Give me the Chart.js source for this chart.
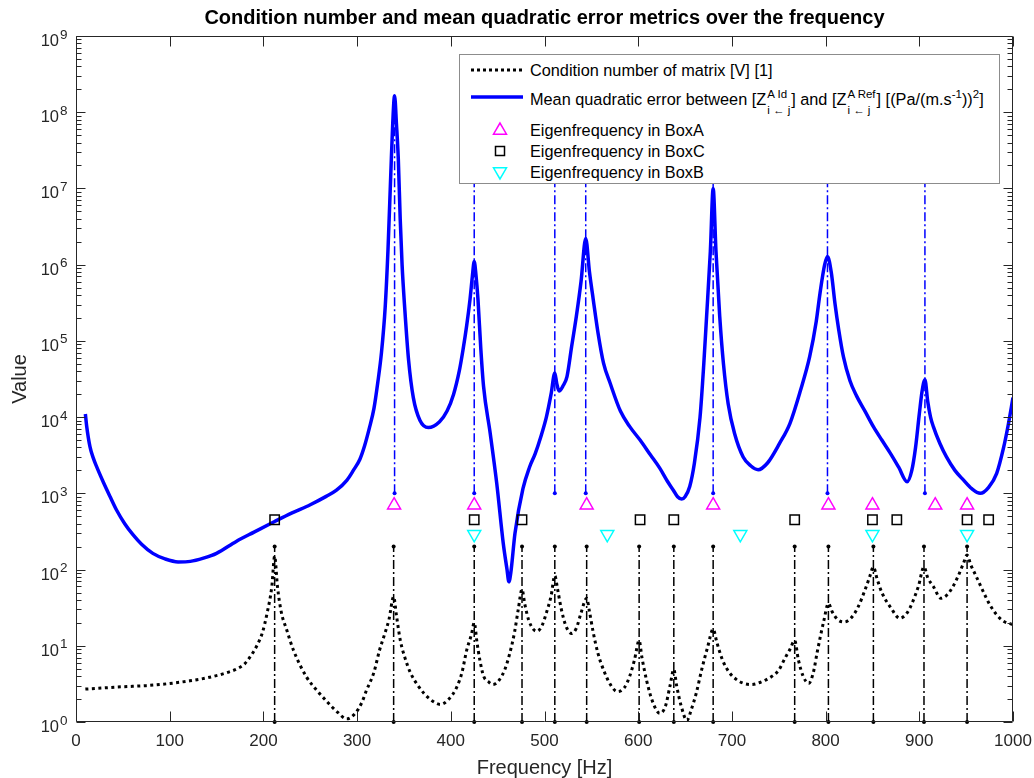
<!DOCTYPE html>
<html>
<head>
<meta charset="utf-8">
<script src="https://cdn.jsdelivr.net/npm/chart.js@4.4.1/dist/chart.umd.min.js"></script>
<style>
  html, body { margin: 0; padding: 0; background: #fff; }
  #wrap { position: relative; width: 1034px; height: 778px; font-family: "Liberation Sans", Arial, sans-serif; }
  #legend { position: absolute; left: 459px; top: 54px; width: 541px; height: 130px; box-sizing: border-box;
            border: 1px solid #8c8c8c; background: #fff; color: #000; font-size: 16.3px; }
  .row { position: absolute; left: 0; height: 20px; line-height: 20px; white-space: nowrap; }
  .row svg { position: absolute; left: 10px; top: 0; }
  .row .txt { position: absolute; left: 70px; top: 0; }
  .ss { display: inline-flex; flex-direction: column; vertical-align: middle; font-size: 11.5px; line-height: 11px;
        row-gap: 5px; position: relative; top: 2px; margin: 0 1px; }
  sup { font-size: 11.5px; line-height: 0; vertical-align: 0.6em; }
</style>
</head>
<body>
<div id="wrap">
  <canvas id="chart" width="1034" height="778"></canvas>
  <div id="legend">
    <div class="row" style="top:5px">
      <svg width="54" height="20"><line x1="1" y1="10" x2="53" y2="10" stroke="#000" stroke-width="3" stroke-dasharray="3 3"/></svg>
      <span class="txt">Condition number of matrix [V] [1]</span>
    </div>
    <div class="row" style="top:32px">
      <svg width="54" height="20"><line x1="1" y1="10" x2="53" y2="10" stroke="#0000ff" stroke-width="3.5"/></svg>
      <span class="txt">Mean quadratic error between [Z<span class="ss"><span>A Id</span><span>i ← j</span></span>] and [Z<span class="ss"><span>A Ref</span><span>i ← j</span></span>] [(Pa/(m.s<sup>-1</sup>))<sup>2</sup>]</span>
    </div>
    <div class="row" style="top:65px">
      <svg width="54" height="20"><polygon points="30,3 23.5,14.2 36.5,14.2" fill="none" stroke="#ff00ff" stroke-width="1.5"/></svg>
      <span class="txt">Eigenfrequency in BoxA</span>
    </div>
    <div class="row" style="top:86px">
      <svg width="54" height="20"><rect x="25.5" y="5.5" width="9" height="9" fill="none" stroke="#000" stroke-width="1.5"/></svg>
      <span class="txt">Eigenfrequency in BoxC</span>
    </div>
    <div class="row" style="top:107px">
      <svg width="54" height="20"><polygon points="30,17 23.5,5.8 36.5,5.8" fill="none" stroke="#00ffff" stroke-width="1.5"/></svg>
      <span class="txt">Eigenfrequency in BoxB</span>
    </div>
  </div>
</div>
<script>
// condition number of matrix [V], [frequency Hz, value]
const condCurve = [
  [10, 2.7], [30, 2.8], [50, 2.9], [75, 3.0], [100, 3.2], [120, 3.45], [140, 3.8], [160, 4.4],
  [172, 5.0], [180, 5.8], [186, 7.2], [193, 10], [199, 15], [204, 27], [209, 60], [212, 150],
  [215, 60], [219, 28], [225, 16], [232, 8.8], [246, 3.9], [257, 2.6], [267, 1.9], [279, 1.35],
  [289, 1.1], [298, 1.3], [305, 1.8], [310, 2.6], [318, 4.5], [324, 8.8], [330, 15], [334, 22],
  [339, 44], [342, 25], [346, 12], [351, 7], [357, 4.4], [365, 3.0], [371, 2.4], [380, 1.9],
  [389, 1.7], [398, 2.0], [406, 2.8], [412, 4.5], [417, 8.8], [422, 14], [425, 20], [428, 11],
  [431, 6.5], [435, 4.0], [440, 3.4], [445, 3.1], [452, 3.6], [458, 5], [463, 8], [468, 15],
  [472, 30], [476, 55], [479, 35], [483, 22], [488, 16.5], [492, 15.5], [497, 18], [502, 27],
  [507, 45], [511, 83], [514, 55], [518, 30], [523, 18], [529, 14.5], [534, 17], [539, 27],
  [545, 42], [548, 28], [552, 15], [557, 8], [564, 4.5], [571, 3], [578, 2.5], [585, 2.8],
  [591, 4], [596, 6.5], [601, 11.7], [604, 7], [609, 3.5], [615, 1.9], [623, 1.3], [629, 1.6],
  [634, 3], [638, 4.9], [641, 3], [646, 1.6], [652, 1.05], [657, 1.5], [662, 2.4], [668, 5],
  [674, 9.5], [680, 16.5], [684, 11], [690, 6.5], [697, 4.5], [705, 3.6], [713, 3.2], [721, 3.1],
  [730, 3.3], [743, 4], [750, 4.8], [757, 7], [762, 9], [767, 11.7], [771, 6.5], [776, 4],
  [782, 3.2], [787, 4.5], [791, 8.2], [798, 21], [803, 36], [807, 28], [813, 22], [820, 20.5],
  [827, 23], [834, 31], [843, 58], [847, 80], [851, 108], [855, 75], [860, 50], [870, 31],
  [879, 23], [887, 27], [893, 38], [899, 60], [905, 108], [909, 78], [915, 60], [923, 42],
  [930, 47], [936, 60], [942, 85], [947, 120], [951, 155], [955, 115], [961, 80], [968, 52],
  [975, 35], [982, 26], [990, 21], [1000, 19]
];

// mean quadratic error between [Z A Id] and [Z A Ref], [frequency Hz, value]
const errCurve = [
  [10, 11000], [11.4, 7600], [14.9, 4100], [18.5, 2900], [22, 2240], [29.2, 1400], [36.3, 910],
  [43.4, 600], [52, 400], [61, 285], [70, 215], [82, 163], [95, 138], [109, 126], [122, 128],
  [136, 141], [150, 163], [171, 234], [190, 310], [212, 427], [230, 550], [250, 708], [267, 912],
  [278, 1100], [289, 1480], [296, 2000], [303, 2800], [308, 4200], [313, 7100], [318, 1.3e4],
  [322, 2.8e4], [326, 7e4], [330, 2.8e5], [333, 1.6e6], [336, 1.6e7], [338, 7e7], [340, 1.65e8],
  [342, 7e7], [344, 2.4e7], [346, 4e6], [348, 1e6], [351, 2.5e5], [355, 5.5e4], [360, 1.8e4],
  [367, 9100], [376, 7300], [388, 8700], [396, 1.2e4], [403, 2.0e4], [409, 4e4], [413, 7.6e4],
  [417, 1.6e5], [420.5, 3.5e5], [423, 7e5], [425, 1.1e6], [427, 7e5], [429, 3.5e5], [432, 8e4],
  [435, 2.5e4], [442, 6200], [449, 1360], [456, 220], [460, 100], [462, 69], [464, 90],
  [468.5, 300], [477, 1150], [484, 2200], [490, 3300], [496, 5500], [502, 1e4], [507, 2e4],
  [511, 3.8e4], [513, 2.8e4], [515.5, 2.2e4], [520, 2.6e4], [524, 3.4e4], [529, 8.5e4], [534, 2.1e5],
  [539, 6e5], [544, 2.2e6], [548, 8e5], [552, 3.5e5], [557, 1.3e5], [563, 5.1e4], [570, 2.8e4],
  [581, 1.2e4], [591, 7500], [602, 5000], [613, 3200], [623, 2140], [631, 1450], [637.5, 1100],
  [642, 900], [646.4, 840], [650, 900], [655, 1230], [660, 2500], [666, 1e4], [670, 5e4],
  [673, 2.1e5], [677, 1.5e6], [680, 1.0e7], [683, 1.5e6], [687, 2.1e5], [691, 5e4], [696, 1.5e4],
  [703, 6000], [712, 3000], [720, 2300], [728, 2040], [738, 2500], [751, 4550], [762, 8300],
  [773, 2.2e4], [783, 6.2e4], [790, 1.8e5], [794, 4.2e5], [799, 1e6], [802, 1.28e6], [806, 8e5],
  [810, 3.1e5], [814, 1.4e5], [819, 6.2e4], [826, 3e4], [833, 1.9e4], [842, 1.2e4], [851, 7500],
  [860, 5000], [869, 3370], [878, 2200], [887, 1420], [892, 2000], [896, 4000], [900, 1.1e4],
  [903, 2.2e4], [906, 3.1e4], [909, 1.6e4], [912, 1e4], [915, 7500], [922, 4500], [929, 3000],
  [938, 2000], [947, 1500], [956, 1150], [965, 1000], [974, 1200], [982.6, 1830], [990, 4000],
  [995, 8000], [1000, 1.8e4]
];

// eigenfrequencies (Hz) and the level each marker row sits at
const boxAFreqs = [339.5, 425, 545, 680, 803, 850, 917, 951];
const boxCFreqs = [212, 425, 476, 602, 638, 767, 850, 876, 951, 974];
const boxBFreqs = [425, 567, 709, 850, 951];
const BOXA_LEVEL = 700;
const BOXC_LEVEL = 450;
const BOXB_LEVEL = 290;

// dash-dot stems
const errStemFreqs = [340, 425, 511, 544, 680, 802, 906];
const ERR_STEM_RANGE = [1e3, 1e8];
const condStemFreqs = [212, 339, 425, 476, 511, 545, 601, 638, 680, 767, 803, 851, 905, 951];
const COND_STEM_RANGE = [1, 200];

const xTickValues = [0, 100, 200, 300, 400, 500, 600, 700, 800, 900, 1000];
const yDecades = [0, 1, 2, 3, 4, 5, 6, 7, 8, 9];

const AXIS_COLOR = '#262626';
const FONT = '"Liberation Sans", Arial, sans-serif';

const toPoints = pairs => pairs.map(([x, y]) => ({ x, y }));
const stemPoints = (freqs, [lo, hi]) => freqs.flatMap(f => [{ x: f, y: lo }, { x: f, y: hi }, { x: f, y: null }]);
const markerPoints = (freqs, level) => freqs.map(f => ({ x: f, y: level }));

const yTicks = [];
yDecades.forEach(e => {
    if (e === yDecades[yDecades.length - 1]) { yTicks.push({ value: Math.pow(10, e), major: true }); return; }
    for (let m = 1; m <= 9; m++) yTicks.push({ value: m * Math.pow(10, e), major: m === 1 });
});

// box, inward ticks on all four sides, and 10^n labels
const axisFrame = {
    id: 'axisFrame',
    afterDraw(chart) {
        const { ctx, chartArea: a, scales: { x, y } } = chart;
        const L = Math.round(a.left) + 0.5, R = Math.round(a.right) - 0.5;
        const T = Math.round(a.top) + 0.5, B = Math.round(a.bottom) - 0.5;
        ctx.save();
        ctx.strokeStyle = AXIS_COLOR;
        ctx.lineWidth = 1;
        ctx.beginPath();
        xTickValues.forEach(v => {
            const px = Math.round(x.getPixelForValue(v)) + 0.5;
            ctx.moveTo(px, B); ctx.lineTo(px, B - 10);
            ctx.moveTo(px, T); ctx.lineTo(px, T + 10);
        });
        yTicks.forEach(t => {
            const len = t.major ? 9 : 5;
            const py = Math.round(y.getPixelForValue(t.value)) + 0.5;
            ctx.moveTo(L, py); ctx.lineTo(L + len, py);
            ctx.moveTo(R, py); ctx.lineTo(R - len, py);
        });
        ctx.rect(L, T, R - L, B - T);
        ctx.stroke();

        ctx.fillStyle = AXIS_COLOR;
        ctx.textBaseline = 'alphabetic';
        yDecades.forEach(e => {
            const py = y.getPixelForValue(Math.pow(10, e));
            ctx.font = '16.5px ' + FONT;
            ctx.textAlign = 'right';
            ctx.fillText('10', a.left - 17, py + 10);
            ctx.font = '13.5px ' + FONT;
            ctx.textAlign = 'left';
            ctx.fillText(String(e), a.left - 16, py + 2.5);
        });
        ctx.restore();
    }
};

const dashDot = [9, 3, 2, 3];

new Chart(document.getElementById('chart'), {
    type: 'line',
    data: {
        datasets: [
            {
                label: 'Eigenfrequency in BoxA',
                data: markerPoints(boxAFreqs, BOXA_LEVEL),
                showLine: false, pointStyle: 'triangle', pointRadius: 7.5,
                pointBorderColor: '#ff00ff', pointBackgroundColor: 'rgba(0,0,0,0)', pointBorderWidth: 1.5,
                order: 0
            },
            {
                label: 'Eigenfrequency in BoxC',
                data: markerPoints(boxCFreqs, BOXC_LEVEL),
                showLine: false, pointStyle: 'rect', pointRadius: 6.6,
                pointBorderColor: '#000', pointBackgroundColor: 'rgba(0,0,0,0)', pointBorderWidth: 1.5,
                order: 0
            },
            {
                label: 'Eigenfrequency in BoxB',
                data: markerPoints(boxBFreqs, BOXB_LEVEL),
                showLine: false, pointStyle: 'triangle', pointRotation: 180, pointRadius: 7.5,
                pointBorderColor: '#00ffff', pointBackgroundColor: 'rgba(0,0,0,0)', pointBorderWidth: 1.5,
                order: 0
            },
            {
                label: 'Mean quadratic error',
                data: toPoints(errCurve),
                borderColor: '#0000ff', borderWidth: 3.5, pointRadius: 0,
                cubicInterpolationMode: 'monotone',
                order: 2
            },
            {
                label: 'Condition number of matrix [V] [1]',
                data: toPoints(condCurve),
                borderColor: '#000', borderWidth: 3, borderDash: [3, 3.5], borderCapStyle: 'butt',
                pointRadius: 0, cubicInterpolationMode: 'monotone',
                order: 3
            },
            {
                label: 'error stems',
                data: stemPoints(errStemFreqs, ERR_STEM_RANGE),
                borderColor: '#0000ff', borderWidth: 1.5, borderDash: dashDot,
                pointRadius: ctx => (ctx.raw && ctx.raw.y === ERR_STEM_RANGE[0]) ? 2 : 0,
                pointBackgroundColor: '#0000ff', pointBorderWidth: 0,
                order: 4
            },
            {
                label: 'condition stems',
                data: stemPoints(condStemFreqs, COND_STEM_RANGE),
                borderColor: '#000', borderWidth: 1.5, borderDash: dashDot,
                pointRadius: ctx => (ctx.raw && ctx.raw.y !== null) ? 2 : 0,
                pointBackgroundColor: '#000', pointBorderWidth: 0,
                clip: false,
                order: 1
            }
        ]
    },
    options: {
        responsive: false,
        animation: false,
        devicePixelRatio: 1,
        layout: { padding: { left: 0, right: 21, top: 0, bottom: 0 } },
        plugins: {
            legend: { display: false },
            tooltip: { enabled: false },
            title: {
                display: true,
                fullSize: false,
                text: 'Condition number and mean quadratic error metrics over the frequency',
                color: '#000',
                font: { family: FONT, size: 20, weight: 'bold', lineHeight: 1.2 },
                padding: { top: 6, bottom: 6 }
            }
        },
        scales: {
            x: {
                type: 'linear', min: 0, max: 1000,
                afterBuildTicks: s => { s.ticks = xTickValues.map(v => ({ value: v })); },
                afterFit: s => { s.height = 56; s.paddingLeft = 0; s.paddingRight = 0; },
                grid: { display: false, drawTicks: false },
                border: { display: false },
                ticks: {
                    color: AXIS_COLOR, font: { family: FONT, size: 17 }, padding: 9, maxRotation: 0, autoSkip: false,
                    callback: v => String(v)
                },
                title: { display: true, text: 'Frequency [Hz]', color: AXIS_COLOR, font: { family: FONT, size: 20, lineHeight: 1 }, padding: { top: 0, bottom: 0 } }
            },
            y: {
                type: 'logarithmic', min: 1, max: 1e9,
                afterBuildTicks: s => { s.ticks = yTicks.map(t => ({ value: t.value, major: t.major })); },
                afterFit: s => { s.width = 76; s.paddingTop = 0; s.paddingBottom = 0; },
                grid: { display: false, drawTicks: false },
                border: { display: false },
                ticks: { display: false },
                title: { display: true, text: 'Value', color: AXIS_COLOR, font: { family: FONT, size: 20 }, padding: { top: 8, bottom: 0 } }
            }
        }
    },
    plugins: [axisFrame]
});
</script>
</body>
</html>
